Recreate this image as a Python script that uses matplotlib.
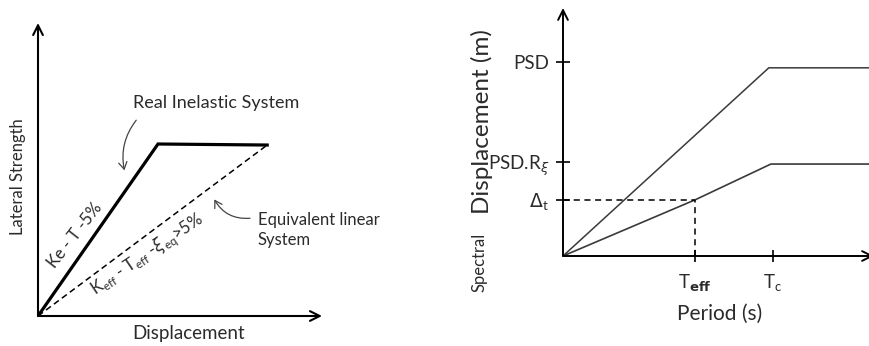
import matplotlib
matplotlib.use("Agg")
import matplotlib.pyplot as plt

plt.rcParams['font.family'] = ['Lato', 'DejaVu Sans']
plt.rcParams['mathtext.fontset'] = 'dejavusans'

# left panel: force-displacement (yield displacement = 1, yield strength = 1)
real_disp = [0.0, 1.0, 1.91]
real_strength = [0.0, 1.0, 0.994]
equiv_disp = [0.0, 1.91]
equiv_strength = [0.0, 0.994]

# right panel: displacement spectrum (Tc = 1, PSD = 1)
t_eff = 0.63
t_c = 1.0
psd = 1.0
psd_r = 0.485
delta_t = 0.29
upper_period = [0.0, 0.98, 1.5]
upper_disp = [0.0, 0.97, 0.97]
lower_period = [0.0, t_eff, 0.99, 1.5]
lower_disp = [0.0, delta_t, 0.474, 0.474]

W, H = 869, 346
fig = plt.figure(figsize=(W / 100, H / 100), dpi=100)
txt = '#2b2b2b'


def px_axes(x0, y0, x1, y1):
    # x0,y0 = origin pixel, x1 = right pixel, y1 = top pixel
    return fig.add_axes([x0 / W, (H - y0) / H, (x1 - x0) / W, (y0 - y1) / H])


def axis_arrows(ax, lw):
    kw = dict(arrowstyle='->,head_length=0.7,head_width=0.35', lw=lw, color='black',
              shrinkA=0, shrinkB=0)
    ax.annotate('', xy=(1, 0), xytext=(0, 0), xycoords='axes fraction', arrowprops=kw)
    ax.annotate('', xy=(0, 1), xytext=(0, 0), xycoords='axes fraction', arrowprops=kw)


# ---- left
ax1 = px_axes(38, 316, 322, 23)
ax1.set_xlim(0, 284 / 120)
ax1.set_ylim(0, 293 / 172)
for s in ax1.spines.values():
    s.set_visible(False)
ax1.set_xticks([])
ax1.set_yticks([])
axis_arrows(ax1, 1.5)

ax1.plot(real_disp, real_strength, color='black', lw=2.3, solid_joinstyle='miter')
ax1.plot(equiv_disp, equiv_strength, color='black', lw=1.1, linestyle=(0, (4, 2.5)))

ax1.text(1.483, 1.238, 'Real Inelastic System', ha='center', va='center',
         fontsize=13, color=txt)
ax1.annotate('', xy=(0.725, 0.831), xytext=(0.833, 1.151),
             arrowprops=dict(arrowstyle='->,head_length=0.5,head_width=0.3', lw=0.9,
                             color='#444444', connectionstyle='arc3,rad=0.25'))
ax1.text(1.83, 0.56, 'Equivalent linear', ha='left', va='center', fontsize=12, color=txt)
ax1.text(1.83, 0.44, 'System', ha='left', va='center', fontsize=12, color=txt)
ax1.annotate('', xy=(1.458, 0.692), xytext=(1.79, 0.57),
             arrowprops=dict(arrowstyle='->,head_length=0.5,head_width=0.3', lw=0.9,
                             color='#444444', connectionstyle='arc3,rad=-0.35'))
ax1.text(0.31, 0.47, 'Ke - T -5%', rotation=52, ha='center', va='center',
         fontsize=12, color=txt, rotation_mode='anchor')
ax1.text(0.91, 0.355, r'K$_{\mathregular{eff}}$ - T$_{\mathregular{eff}}$ -$\xi_{\mathregular{eq}}$>5%',
         rotation=34, ha='center', va='center', fontsize=12, color=txt,
         rotation_mode='anchor')

fig.text(18 / W, (H - 177) / H, 'Lateral Strength', rotation=90, ha='center', va='center',
         fontsize=12, color=txt)
fig.text(189 / W, (H - 333) / H, 'Displacement', ha='center', va='center',
         fontsize=13.5, color=txt)

# ---- right
ax2 = px_axes(563, 256, 874, 8)
ax2.set_xlim(0, 311 / 210)
ax2.set_ylim(0, 248 / 194)
for s in ax2.spines.values():
    s.set_visible(False)
axis_arrows(ax2, 1.4)

ax2.plot(upper_period, upper_disp, color='#3a3a3a', lw=1.1)
ax2.plot(lower_period, lower_disp, color='#3a3a3a', lw=1.2)
ax2.plot([0, t_eff], [delta_t, delta_t], color='black', lw=1.1, linestyle=(0, (4, 3)))
ax2.plot([t_eff, t_eff], [0, delta_t], color='black', lw=1.1, linestyle=(0, (4, 3)))

ax2.set_yticks([delta_t, psd_r, psd])
ax2.set_yticklabels([r'$\Delta_\mathregular{t}$', r'PSD.R$_\xi$', 'PSD'])
ax2.set_xticks([t_eff, t_c])
ax2.set_xticklabels([r'T$_{\mathbf{eff}}$', r'T$_\mathregular{c}$'])
ax2.tick_params(axis='both', direction='inout', length=10, width=1.2, color='black',
                labelsize=13.5, labelcolor=txt, pad=5)
ax2.tick_params(axis='x', length=8, pad=8)

fig.text(720 / W, (H - 314) / H, 'Period (s)', ha='center', va='center',
         fontsize=15, color=txt)
fig.text(482 / W, (H - 122) / H, 'Displacement (m)', rotation=90, ha='center', va='center',
         fontsize=17.5, color=txt)
fig.text(479 / W, (H - 262) / H, 'Spectral', rotation=90, ha='center', va='center',
         fontsize=12, color=txt)

fig.savefig('out.png', dpi=100, facecolor='white')
